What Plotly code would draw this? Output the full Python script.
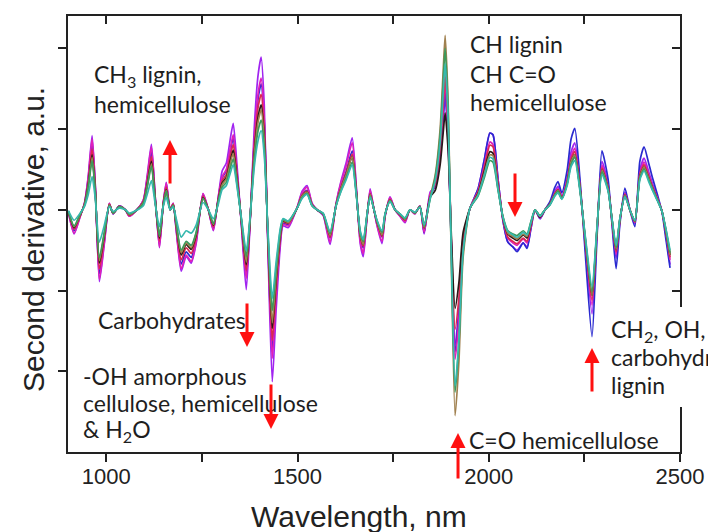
import plotly.graph_objects as go

# ---------------- data ----------------
wavelength = [
    901, 916, 932, 943, 953, 963, 971, 982, 995, 1008,
    1018, 1034, 1050, 1060, 1078, 1097, 1107, 1118, 1128, 1139,
    1149, 1157, 1167, 1175, 1183, 1196, 1209, 1222, 1235, 1253,
    1267, 1280, 1293, 1303, 1314, 1324, 1332, 1342, 1353, 1366,
    1376, 1387, 1397, 1405, 1413, 1423, 1434, 1444, 1455, 1462,
    1476, 1499, 1512, 1525, 1538, 1551, 1567, 1585, 1601, 1614,
    1627, 1643, 1653, 1664, 1672, 1682, 1690, 1700, 1708, 1721,
    1729, 1742, 1755, 1768, 1781, 1794, 1807, 1820, 1831, 1847,
    1860, 1873, 1881, 1886, 1894, 1901, 1912, 1922, 1933, 1951,
    1972, 1988, 2003, 2011, 2024, 2037, 2050, 2063, 2074, 2090,
    2100, 2110, 2121, 2134, 2147, 2160, 2173, 2181, 2191, 2205,
    2215, 2225, 2239, 2252, 2270, 2283, 2296, 2312, 2322, 2333,
    2343, 2356, 2369, 2382, 2395, 2406, 2419, 2429, 2442, 2453,
    2463, 2474,
]

sample_purple = [
    -0.03, -0.30, -0.08, 0.08, 0.42, 0.92, 0.34, -0.89, -0.42, 0.08,
    -0.05, 0.05, 0.00, -0.08, -0.01, 0.12, 0.42, 0.81, 0.16, -0.47,
    0.08, 0.34, 0.00, 0.08, -0.26, -0.76, -0.58, -0.66, -0.42, 0.20,
    0.00, -0.26, 0.16, 0.48, 0.58, 0.87, 1.07, 0.54, -0.17, -0.99,
    -0.17, 1.02, 1.67, 1.89, 1.31, -0.54, -2.13, -1.25, -0.45, -0.20,
    -0.22, 0.03, 0.23, 0.30, 0.08, 0.00, -0.07, -0.43, 0.08, 0.36,
    0.58, 0.89, 0.34, -0.42, -0.58, -0.08, 0.26, 0.00, -0.20, -0.42,
    -0.08, 0.16, 0.00, -0.08, -0.16, 0.00, -0.05, 0.05, -0.30, 0.22,
    0.28, 0.65, 1.11, 1.39, 0.83, -0.23, -1.67, -1.22, -0.39, 0.02,
    0.26, 0.61, 0.95, 0.93, 0.39, -0.13, -0.40, -0.46, -0.50, -0.41,
    -0.46, -0.24, 0.00, -0.11, 0.00, 0.08, 0.23, 0.29, 0.17, 0.40,
    0.71, 0.83, 0.29, -0.43, -1.29, -0.29, 0.60, 0.31, -0.14, -0.60,
    -0.14, 0.22, 0.00, -0.17, 0.49, 0.64, 0.46, 0.31, 0.14, -0.02,
    -0.31, -0.68,
]

sample_blue = [
    -0.02, -0.26, -0.07, 0.07, 0.37, 0.82, 0.30, -0.79, -0.37, 0.07,
    -0.05, 0.05, 0.00, -0.07, -0.01, 0.11, 0.37, 0.72, 0.14, -0.42,
    0.07, 0.30, 0.00, 0.07, -0.23, -0.67, -0.52, -0.59, -0.37, 0.18,
    0.00, -0.23, 0.14, 0.40, 0.48, 0.72, 0.89, 0.44, -0.14, -0.82,
    -0.14, 0.84, 1.38, 1.56, 1.08, -0.44, -1.76, -1.03, -0.37, -0.17,
    -0.18, 0.02, 0.19, 0.24, 0.07, 0.00, -0.06, -0.35, 0.07, 0.30,
    0.47, 0.73, 0.28, -0.34, -0.47, -0.07, 0.21, 0.00, -0.17, -0.34,
    -0.07, 0.13, 0.00, -0.07, -0.13, 0.00, -0.04, 0.04, -0.28, 0.18,
    0.30, 0.69, 1.18, 1.48, 0.89, -0.24, -1.76, -1.29, -0.41, 0.02,
    0.26, 0.61, 0.95, 0.93, 0.39, -0.13, -0.40, -0.46, -0.52, -0.41,
    -0.48, -0.24, 0.00, -0.11, 0.00, 0.10, 0.28, 0.35, 0.21, 0.49,
    0.87, 1.01, 0.35, -0.52, -1.57, -0.35, 0.73, 0.38, -0.17, -0.73,
    -0.17, 0.27, 0.00, -0.21, 0.60, 0.78, 0.56, 0.38, 0.17, -0.03,
    -0.36, -0.72,
]

sample_magenta = [
    -0.03, -0.29, -0.08, 0.08, 0.40, 0.88, 0.33, -0.86, -0.40, 0.08,
    -0.05, 0.05, 0.00, -0.08, -0.01, 0.12, 0.40, 0.78, 0.16, -0.46,
    0.08, 0.33, 0.00, 0.08, -0.25, -0.73, -0.56, -0.64, -0.40, 0.20,
    0.00, -0.25, 0.16, 0.41, 0.50, 0.75, 0.93, 0.46, -0.15, -0.85,
    -0.15, 0.88, 1.44, 1.63, 1.13, -0.46, -1.84, -1.08, -0.39, -0.18,
    -0.20, 0.03, 0.21, 0.28, 0.08, 0.00, -0.06, -0.40, 0.08, 0.34,
    0.54, 0.83, 0.31, -0.39, -0.54, -0.08, 0.24, 0.00, -0.19, -0.39,
    -0.08, 0.15, 0.00, -0.08, -0.15, 0.00, -0.05, 0.05, -0.28, 0.20,
    0.31, 0.73, 1.26, 1.57, 0.94, -0.25, -1.85, -1.36, -0.43, 0.02,
    0.23, 0.54, 0.84, 0.81, 0.34, -0.11, -0.35, -0.41, -0.44, -0.36,
    -0.41, -0.21, 0.00, -0.10, 0.00, 0.07, 0.21, 0.26, 0.16, 0.37,
    0.65, 0.76, 0.26, -0.39, -1.18, -0.26, 0.55, 0.28, -0.13, -0.55,
    -0.13, 0.20, 0.00, -0.16, 0.45, 0.59, 0.42, 0.28, 0.13, -0.02,
    -0.28, -0.62,
]

sample_red = [
    -0.02, -0.24, -0.07, 0.07, 0.34, 0.75, 0.28, -0.73, -0.34, 0.07,
    -0.04, 0.04, 0.00, -0.07, -0.01, 0.10, 0.34, 0.66, 0.13, -0.39,
    0.07, 0.28, 0.00, 0.07, -0.21, -0.62, -0.47, -0.54, -0.34, 0.17,
    0.00, -0.21, 0.13, 0.36, 0.44, 0.66, 0.81, 0.41, -0.13, -0.75,
    -0.13, 0.77, 1.27, 1.43, 0.99, -0.41, -1.62, -0.95, -0.34, -0.15,
    -0.17, 0.02, 0.18, 0.23, 0.06, 0.00, -0.05, -0.34, 0.06, 0.28,
    0.45, 0.69, 0.26, -0.33, -0.45, -0.06, 0.20, 0.00, -0.16, -0.33,
    -0.06, 0.13, 0.00, -0.06, -0.13, 0.00, -0.04, 0.04, -0.23, 0.17,
    0.33, 0.77, 1.33, 1.67, 1.00, -0.20, -1.48, -1.09, -0.34, 0.02,
    0.22, 0.51, 0.80, 0.78, 0.33, -0.11, -0.34, -0.39, -0.42, -0.35,
    -0.39, -0.20, 0.00, -0.09, 0.00, 0.07, 0.20, 0.25, 0.15, 0.35,
    0.62, 0.72, 0.25, -0.37, -1.12, -0.25, 0.52, 0.27, -0.12, -0.52,
    -0.12, 0.19, 0.00, -0.15, 0.43, 0.56, 0.40, 0.27, 0.12, -0.02,
    -0.27, -0.59,
]

sample_black = [
    -0.02, -0.22, -0.06, 0.06, 0.31, 0.68, 0.25, -0.66, -0.31, 0.06,
    -0.04, 0.04, 0.00, -0.06, -0.01, 0.09, 0.31, 0.60, 0.12, -0.35,
    0.06, 0.25, 0.00, 0.06, -0.19, -0.56, -0.43, -0.49, -0.31, 0.15,
    0.00, -0.19, 0.12, 0.33, 0.40, 0.60, 0.74, 0.37, -0.12, -0.68,
    -0.12, 0.70, 1.15, 1.30, 0.90, -0.37, -1.47, -0.86, -0.31, -0.14,
    -0.16, 0.02, 0.17, 0.22, 0.06, 0.00, -0.05, -0.32, 0.06, 0.27,
    0.43, 0.66, 0.25, -0.31, -0.43, -0.06, 0.19, 0.00, -0.15, -0.31,
    -0.06, 0.12, 0.00, -0.06, -0.12, 0.00, -0.04, 0.04, -0.22, 0.16,
    0.24, 0.56, 0.96, 1.20, 0.72, -0.17, -1.22, -0.90, -0.28, 0.02,
    0.20, 0.47, 0.72, 0.70, 0.29, -0.10, -0.30, -0.35, -0.38, -0.31,
    -0.35, -0.18, 0.00, -0.09, 0.00, 0.07, 0.19, 0.24, 0.14, 0.33,
    0.59, 0.68, 0.24, -0.35, -1.06, -0.24, 0.49, 0.26, -0.11, -0.49,
    -0.11, 0.18, 0.00, -0.14, 0.41, 0.53, 0.38, 0.26, 0.11, -0.02,
    -0.26, -0.56,
]

sample_brown = [
    -0.02, -0.21, -0.06, 0.06, 0.29, 0.65, 0.24, -0.63, -0.29, 0.06,
    -0.04, 0.04, 0.00, -0.06, -0.01, 0.09, 0.29, 0.57, 0.11, -0.33,
    0.06, 0.24, 0.00, 0.06, -0.18, -0.53, -0.41, -0.47, -0.29, 0.14,
    0.00, -0.18, 0.11, 0.31, 0.38, 0.57, 0.70, 0.35, -0.11, -0.65,
    -0.11, 0.67, 1.09, 1.24, 0.86, -0.35, -1.40, -0.82, -0.29, -0.13,
    -0.16, 0.02, 0.17, 0.22, 0.06, 0.00, -0.05, -0.32, 0.06, 0.27,
    0.43, 0.66, 0.25, -0.31, -0.43, -0.06, 0.19, 0.00, -0.15, -0.31,
    -0.06, 0.12, 0.00, -0.06, -0.12, 0.00, -0.04, 0.04, -0.22, 0.16,
    0.43, 1.01, 1.73, 2.16, 1.30, -0.35, -2.55, -1.88, -0.59, 0.02,
    0.19, 0.44, 0.68, 0.67, 0.28, -0.09, -0.29, -0.33, -0.36, -0.30,
    -0.33, -0.17, 0.00, -0.08, 0.00, 0.07, 0.19, 0.24, 0.14, 0.33,
    0.59, 0.68, 0.24, -0.35, -1.06, -0.24, 0.49, 0.26, -0.11, -0.49,
    -0.11, 0.18, 0.00, -0.14, 0.41, 0.53, 0.38, 0.26, 0.11, -0.02,
    -0.26, -0.56,
]

sample_green = [
    -0.02, -0.20, -0.05, 0.05, 0.28, 0.61, 0.23, -0.59, -0.28, 0.05,
    -0.04, 0.04, 0.00, -0.05, -0.01, 0.08, 0.28, 0.54, 0.11, -0.32,
    0.05, 0.23, 0.00, 0.05, -0.17, -0.50, -0.39, -0.44, -0.28, 0.14,
    0.00, -0.17, 0.11, 0.28, 0.34, 0.51, 0.63, 0.31, -0.10, -0.58,
    -0.10, 0.60, 0.98, 1.11, 0.77, -0.31, -1.25, -0.73, -0.26, -0.12,
    -0.14, 0.02, 0.15, 0.20, 0.05, 0.00, -0.05, -0.29, 0.05, 0.24,
    0.39, 0.59, 0.23, -0.28, -0.39, -0.05, 0.17, 0.00, -0.14, -0.28,
    -0.05, 0.11, 0.00, -0.05, -0.11, 0.00, -0.04, 0.04, -0.20, 0.14,
    0.40, 0.93, 1.60, 2.00, 1.20, -0.31, -2.26, -1.66, -0.52, 0.02,
    0.17, 0.39, 0.61, 0.59, 0.25, -0.08, -0.26, -0.30, -0.32, -0.26,
    -0.30, -0.15, 0.00, -0.07, 0.00, 0.06, 0.18, 0.23, 0.14, 0.32,
    0.56, 0.65, 0.23, -0.33, -1.01, -0.23, 0.47, 0.24, -0.11, -0.47,
    -0.11, 0.17, 0.00, -0.14, 0.39, 0.50, 0.36, 0.24, 0.11, -0.02,
    -0.24, -0.53,
]

sample_teal = [
    -0.01, -0.13, -0.04, 0.04, 0.19, 0.41, 0.15, -0.40, -0.19, 0.04,
    -0.02, 0.02, 0.00, -0.04, -0.01, 0.05, 0.19, 0.36, 0.07, -0.21,
    0.04, 0.15, 0.00, 0.04, -0.11, -0.34, -0.26, -0.29, -0.19, 0.09,
    0.00, -0.11, 0.07, 0.25, 0.30, 0.45, 0.56, 0.28, -0.09, -0.51,
    -0.09, 0.53, 0.86, 0.98, 0.68, -0.28, -1.10, -0.65, -0.23, -0.11,
    -0.14, 0.02, 0.14, 0.19, 0.05, 0.00, -0.04, -0.27, 0.05, 0.23,
    0.37, 0.56, 0.21, -0.26, -0.37, -0.05, 0.16, 0.00, -0.13, -0.26,
    -0.05, 0.10, 0.00, -0.05, -0.10, 0.00, -0.03, 0.03, -0.19, 0.14,
    0.36, 0.84, 1.45, 1.81, 1.09, -0.30, -2.18, -1.60, -0.51, 0.02,
    0.18, 0.42, 0.65, 0.63, 0.26, -0.09, -0.27, -0.31, -0.34, -0.28,
    -0.31, -0.16, 0.00, -0.08, 0.00, 0.06, 0.17, 0.21, 0.13, 0.30,
    0.53, 0.61, 0.21, -0.31, -0.95, -0.21, 0.44, 0.23, -0.10, -0.44,
    -0.10, 0.16, 0.00, -0.13, 0.37, 0.48, 0.34, 0.23, 0.10, -0.02,
    -0.23, -0.50,
]

series_names = ["purple", "blue", "magenta", "red", "black", "brown", "green", "teal"]
series_values = [sample_purple, sample_blue, sample_magenta, sample_red,
                 sample_black, sample_brown, sample_green, sample_teal]
series_colors = ["#a024f0", "#2a2ad0", "#e020b8", "#dc2850", "#2b1818",
                 "#a0804f", "#3c9a5c", "#36b8ae"]

x_tick_vals = [1000, 1250, 1500, 1750, 2000, 2250, 2500]
x_tick_text = ["1000", "", "1500", "", "2000", "", "2500"]
y_tick_vals = [-2, -1, 0, 1, 2]

# ---------------- figure ----------------
fig = go.Figure()
n_series = len(series_names)
for i, (name, vals, col) in enumerate(zip(series_names, series_values, series_colors)):
    last = (i == n_series - 1)
    fig.add_trace(go.Scatter(
        x=wavelength, y=vals, mode="lines", name=name,
        line=dict(color=col, width=1.7, shape="spline", smoothing=0.6),
        xaxis="x2" if last else "x", yaxis="y2" if last else "y",
        hoverinfo="skip", showlegend=False))

axis_col = "#222222"
tick_font = dict(family="Liberation Sans, Arial, sans-serif", size=22, color="#222222")
common_x = dict(range=[900, 2500], tickvals=x_tick_vals, ticktext=x_tick_text,
                ticklen=8, tickwidth=1.5, tickcolor=axis_col, showline=True,
                linecolor=axis_col, linewidth=1.5, showgrid=False, zeroline=False,
                automargin=False)
common_y = dict(range=[-3.0, 2.4], tickvals=y_tick_vals, showticklabels=False,
                ticklen=8, tickwidth=1.5, tickcolor=axis_col, showline=True,
                linecolor=axis_col, linewidth=1.5, showgrid=False, zeroline=False,
                automargin=False)

fig.update_layout(
    width=708, height=532,
    margin=dict(l=68, r=28, t=16, b=80, pad=0),
    paper_bgcolor="white", plot_bgcolor="white",
    showlegend=False,
    xaxis=dict(**common_x, ticks="outside", tickfont=tick_font, ticklabelstandoff=-4),
    xaxis2=dict(**common_x, ticks="inside", overlaying="x", side="top",
                anchor="y", showticklabels=False),
    yaxis=dict(**common_y, ticks="outside"),
    yaxis2=dict(**common_y, ticks="inside", overlaying="y", side="right",
                anchor="x"),
)

# white box behind the right-hand label (it hides the frame there)
fig.add_shape(type="rect", xref="paper", yref="paper",
              x0=0.8775, x1=1.06, y0=0.1032, y1=0.3326,
              fillcolor="white", line=dict(width=0), layer="above")

title_font = dict(family="Liberation Sans, Arial, sans-serif", size=30, color="#222222")
fig.add_annotation(text="Wavelength, nm", xref="paper", yref="paper",
                   x=0.4755, y=-0.149, xanchor="center", yanchor="middle",
                   showarrow=False, font=title_font)
fig.add_annotation(text="Second derivative, a.u.", xref="paper", yref="paper",
                   x=-0.0572, y=0.4885, xanchor="center", yanchor="middle",
                   textangle=-90, showarrow=False, font=title_font)

label_font = dict(family="Lato, 'Open Sans', sans-serif", size=23, color="#1e1e1e")
labels = [
    ("CH<sub>3</sub> lignin,", 0.0392, 0.8635),
    ("hemicellulose", 0.0392, 0.7982),
    ("CH lignin", 0.6536, 0.9358),
    ("CH C=O", 0.6536, 0.8670),
    ("hemicellulose", 0.6536, 0.8028),
    ("Carbohydrates", 0.0458, 0.3028),
    ("-OH amorphous", 0.0212, 0.1743),
    ("cellulose, hemicellulose", 0.0212, 0.1124),
    ("&amp; H<sub>2</sub>O", 0.0212, 0.0482),
    ("C=O hemicellulose", 0.6520, 0.0275),
    ("CH<sub>2</sub>, OH, C=O", 0.8840, 0.2798),
    ("carbohydrates,", 0.8840, 0.2179),
    ("lignin", 0.8840, 0.1537),
]
for txt, lx, ly in labels:
    fig.add_annotation(text=txt, xref="paper", yref="paper", x=lx, y=ly,
                       xanchor="left", yanchor="middle", showarrow=False,
                       font=label_font)

# red arrows: (tip x, tip y, tail offset in px)
arrows = [
    (0.1667, 0.7156, 45),
    (0.7304, 0.5390, -45),
    (0.2925, 0.2408, -45),
    (0.3317, 0.0528, -46),
    (0.6373, 0.0436, 47),
    (0.8562, 0.2385, 45),
]
for axp, ayp, off in arrows:
    fig.add_annotation(text="", xref="paper", yref="paper", x=axp, y=ayp,
                       showarrow=True, arrowhead=2, arrowsize=1.0, arrowwidth=3,
                       arrowcolor="#ff1010", ax=0, ay=off)

# the page's default body margin would offset the figure; remove it
fig.write_html("out.html",
               config={"displayModeBar": False},
               post_script="document.body.style.margin='0';document.body.style.overflow='hidden';")
